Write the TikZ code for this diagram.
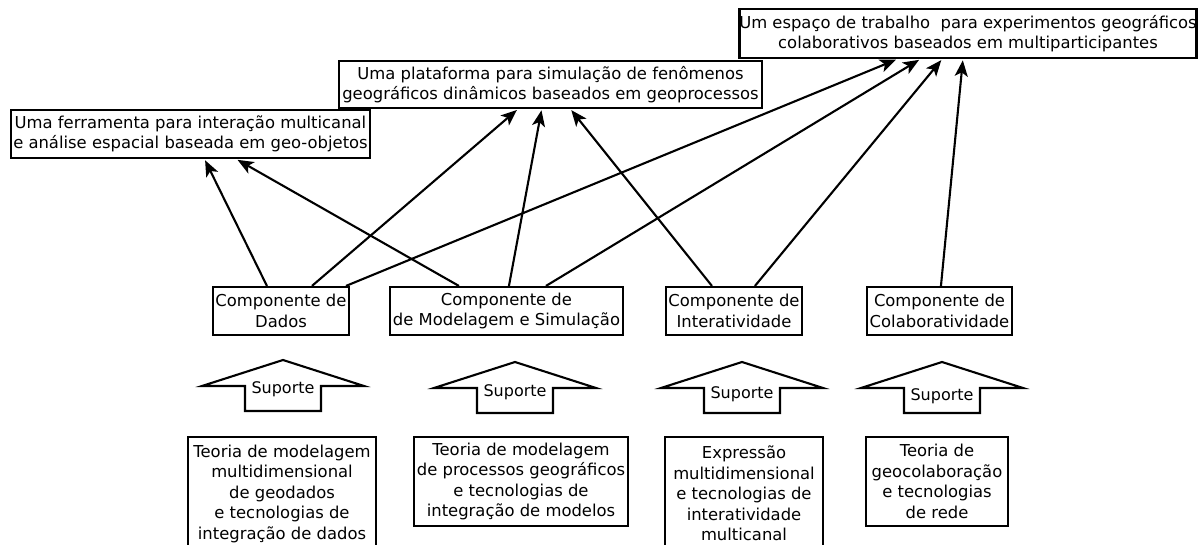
\documentclass[tikz,border=0pt]{standalone}
\usepackage{fontspec}
\setmainfont{DejaVu Sans}
\usetikzlibrary{arrows.meta}
\tikzset{
  box/.style={draw, line width=2.1pt, inner sep=0pt, align=center, font=\fontsize{16.4}{20.5}\selectfont},
  topbox/.style={box, line width=2.7pt},
  conn/.style={line width=2.1pt, -{Stealth[length=16pt,width=13pt,inset=4pt]}, shorten >=1pt},
  suparrow/.style={draw, line width=2.1pt, line join=miter},
  suplabel/.style={inner sep=0pt, font=\fontsize{16}{18}\selectfont}
}
\newcommand{\myarrow}[4]{% #1 x, #2 tip y, #3 label y, #4 name
  \draw[suparrow] (#1,#2) -- (#1+81,#2+26) -- (#1+38,#2+26) -- (#1+38,#2+51)
     -- (#1-38,#2+51) -- (#1-38,#2+26) -- (#1-81,#2+26) -- cycle;
  \node[suplabel] (#4) at (#1,#3) {Suporte};
}
\begin{document}
\begin{tikzpicture}[x=1pt,y=-1pt]
\useasboundingbox (0,0) rectangle (1200,545);
% top boxes
\node[topbox, minimum width=359pt, minimum height=48pt] (A) at (190.5,134)
  {Uma ferramenta para interação multicanal\\e análise espacial baseada em geo-objetos};
\node[topbox, minimum width=423pt, minimum height=47pt] (B) at (550.5,84.5)
  {Uma plataforma para simulação de fenômenos\\geográficos dinâmicos baseados em geoprocessos};
\node[topbox, minimum width=454pt, minimum height=49pt] (C) at (968,33.5)
  {Um espaço de trabalho\ \ para experimentos geográficos\\colaborativos baseados em multiparticipantes};
% components
\node[box, minimum width=136pt, minimum height=48pt] (dados) at (281,311)
  {Componente de\\Dados};
\node[box, minimum width=233pt, minimum height=48pt] (mod) at (506.5,311)
  {Componente de\\de Modelagem e Simulação};
\node[box, minimum width=136pt, minimum height=48pt] (int) at (734,311)
  {Componente de\\Interatividade};
\node[box, minimum width=145pt, minimum height=48pt] (col) at (939.5,311)
  {Componente de\\Colaboratividade};
% bottom boxes
\node[box, minimum width=188pt, minimum height=113pt] (t1) at (282,493.5)
  {Teoria de modelagem\\multidimensional\\de geodados\\e tecnologias de\\integração de dados};
\node[box, minimum width=214pt, minimum height=89pt] (t2) at (521,481.5)
  {Teoria de modelagem\\de processos geográficos\\e tecnologias de\\integração de modelos};
\node[box, minimum width=158pt, minimum height=113pt] (t3) at (744,493.5)
  {Expressão\\multidimensional\\e tecnologias de\\interatividade\\multicanal};
\node[box, minimum width=142pt, minimum height=89pt] (t4) at (937,481.5)
  {Teoria de\\geocolaboração\\e tecnologias\\de rede};
% support arrows
\myarrow{283}{360}{389}{s1}
\myarrow{515}{362}{392}{s2}
\myarrow{742}{362}{394}{s3}
\myarrow{942}{362}{396}{s4}
% connectors
\draw[conn] ([xshift=55pt]dados.north west) -- ([xshift=195pt]A.south west);
\draw[conn] ([xshift=100pt]dados.north west) -- ([xshift=180pt]B.south west);
\draw[conn] ([xshift=134pt]dados.north west) -- ([xshift=159pt]C.south west);
\draw[conn] ([xshift=70pt]mod.north west) -- ([xshift=227pt]A.south west);
\draw[conn] ([xshift=120pt]mod.north west) -- ([xshift=204pt]B.south west);
\draw[conn] ([xshift=157pt]mod.north west) -- ([xshift=182pt]C.south west);
\draw[conn] ([xshift=47pt]int.north west) -- ([xshift=233pt]B.south west);
\draw[conn] ([xshift=90pt]int.north west) -- ([xshift=204pt]C.south west);
\draw[conn] ([xshift=75pt]col.north west) -- ([xshift=225pt]C.south west);
\end{tikzpicture}
\end{document}
